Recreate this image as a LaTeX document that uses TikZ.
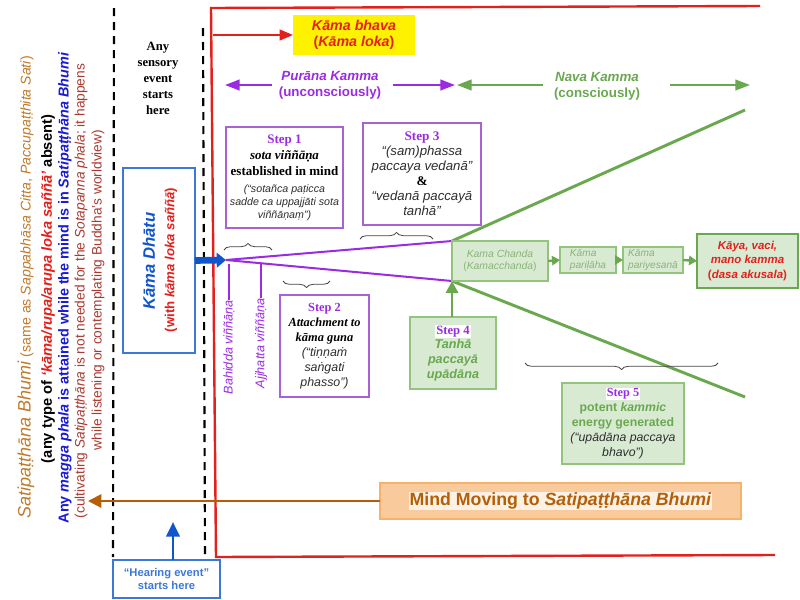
\documentclass[tikz,border=0pt]{standalone}
\usepackage{fontspec}
\setmainfont{Liberation Serif}
\setsansfont{Liberation Sans}
\usetikzlibrary{arrows.meta,decorations.pathreplacing,backgrounds}
\definecolor{fred}{HTML}{E3211C}
\definecolor{pur}{HTML}{9A2BE2}
\definecolor{purb}{HTML}{A962D3}
\definecolor{grn}{HTML}{6AA84F}
\definecolor{grnb}{HTML}{93C47D}
\definecolor{grnf}{HTML}{D9EAD3}
\definecolor{grnt}{HTML}{8AB378}
\definecolor{orf}{HTML}{F9CB9C}
\definecolor{orb}{HTML}{F6B26B}
\definecolor{brn}{HTML}{B45F06}
\definecolor{lbrn}{HTML}{C07A28}
\definecolor{blu}{HTML}{1155CC}
\definecolor{blub}{HTML}{3C78D8}
\definecolor{dblu}{HTML}{1A1AD6}
\definecolor{mar}{HTML}{A83A32}
\definecolor{gtx}{HTML}{2E2E2E}
\definecolor{hl}{HTML}{FDF1E6}
\definecolor{brcol}{HTML}{444444}
\newcommand\fz[2]{\fontsize{#1}{#2}\selectfont}
\newcommand\hlbox[2]{{\setlength\fboxsep{0.6pt}\colorbox{#1}{#2}}}
\begin{document}
\begin{tikzpicture}[x=0.75pt,y=-0.75pt,
  every node/.style={font=\sffamily,inner sep=0pt,outer sep=0pt},
  wh/.style 2 args={minimum width=#1*0.75pt,minimum height=#2*0.75pt},
  redframe/.style={draw=fred,line width=1.8pt},
  dline/.style={draw=black,line width=1.6pt,dash pattern=on 6pt off 4.5pt},
  stepbox/.style={draw=purb,line width=0.9pt,fill=white,align=center},
  gbox/.style={draw=grnb,line width=1.6pt,fill=grnf,align=center},
  bracel/.style={draw=brcol,line width=0.6pt,decorate,decoration={brace,amplitude=5pt}},
  rarrow/.style={draw=fred,line width=1.5pt,-{Triangle[length=10pt,width=8pt]}},
  parrow/.style={draw=pur,line width=1.6pt,-{Triangle[length=11pt,width=8pt]}},
  garrow/.style={draw=grn,line width=1.6pt,-{Triangle[length=11pt,width=8pt]}},
  sgarrow/.style={draw=grn,line width=1.8pt,-{Triangle[length=6pt,width=7pt]}},
  barrow/.style={draw=blu,line width=5pt,-{Triangle[length=7pt,width=11pt]}},
  bluarrow/.style={draw=blu,line width=2.2pt,-{Triangle[length=11pt,width=10pt]}},
  brarrow/.style={draw=brn,line width=1.5pt,-{Triangle[length=10pt,width=10pt]}},
  pline/.style={draw=pur,line width=1.5pt},
  gline/.style={draw=grn,line width=2.2pt},
  vlab/.style={rotate=90,anchor=east,text=pur,font=\sffamily\itshape\fz{9.5}{11}}
]
\useasboundingbox (0,0) rectangle (800,600);
% red frame
\coordinate (ftl) at (211,8);
\coordinate (ftr) at (760,6);
\coordinate (fbl) at (216,557);
\coordinate (fbr) at (775,555);
\draw[redframe] (ftr) -- (ftl) -- (fbl) -- (fbr);
% dashed lines
\coordinate (d1t) at (114,8); \coordinate (d1b) at (113,557);
\coordinate (d2t) at (203,28); \coordinate (d2b) at (205,557);
\draw[dline] (d1t) -- (d1b);
\draw[dline] (d2t) -- (d2b);
% sensory text
\node[font=\rmfamily\bfseries\fz{9.5}{12},align=center] (sens) at (158,78) {Any\\sensory\\event\\starts\\here};
% Kama bhava
\node[fill=yellow,wh={122}{40},align=center,text=fred,font=\sffamily\bfseries\fz{10.7}{12}] (kb) at (354,35) {\textit{Kāma bhava}\\(\textit{Kāma loka})};
\coordinate (kba) at (213,35);
\draw[rarrow] (kba) -- (kb.west);
% Purana / Nava
\node[text=pur,font=\sffamily\bfseries\fz{10}{12},align=center] (pk) at (330,85) {\textit{Purāna Kamma}\\(unconsciously)};
\coordinate (pka) at (272,85); \coordinate (pkl) at (225,85);
\coordinate (pkb) at (393,85); \coordinate (pkr) at (455,85);
\draw[parrow] (pka) -- (pkl);
\draw[parrow] (pkb) -- (pkr);
\node[text=grn,font=\sffamily\bfseries\fz{10}{12},align=center] (nk) at (597,86) {\textit{Nava Kamma}\\(consciously)};
\coordinate (nka) at (543,85); \coordinate (nkl) at (457,85);
\coordinate (nkb) at (670,85); \coordinate (nkr) at (750,85);
\draw[garrow] (nka) -- (nkl);
\draw[garrow] (nkb) -- (nkr);
% focal point, Kama Chanda and lines
\coordinate (fp) at (226,260);
\node[gbox,wh={96}{40},text=grnt,font=\sffamily\fz{7.8}{9}] (kc) at (500,261) {\textit{Kama Chanda}\\(\textit{Kamacchanda})};
\coordinate (gt) at (745,110); \coordinate (gb) at (745,397);
\begin{scope}[on background layer]
\draw[pline] (fp) -- (kc.north west);
\draw[pline] (fp) -- (kc.south west);
\draw[gline] (kc.north west) -- (gt);
\draw[gline] (kc.south west) -- (gb);
\end{scope}
% chain boxes
\node[gbox,line width=1.1pt,wh={56}{26},text=grnt,font=\sffamily\fz{7.6}{9},align=left] (kp) at (588,260) {\textit{Kāma}\\\textit{pariḷāha}};
\node[gbox,line width=1.1pt,wh={60}{26},text=grnt,font=\sffamily\fz{7.6}{9},align=left] (ky) at (653,260) {\textit{Kāma}\\\textit{pariyesanā}};
\node[gbox,draw=grn,line width=2.2pt,wh={101}{54},text=fred,font=\sffamily\bfseries\fz{8.6}{10.9}] (ka) at (747.5,261) {\textit{Kāya, vaci,}\\\textit{mano kamma}\\(\textit{dasa akusala})};
\draw[sgarrow] (kc.east) -- (kp.west);
\draw[sgarrow] (kp.east) -- (ky.west);
\draw[sgarrow] (ky.east) -- (ka.west);
% Kama Dhatu
\node[draw=blub,line width=1.2pt,wh={72}{185}] (kd) at (159,260.5) {};
\node[rotate=90,text=blu,font=\sffamily\bfseries\itshape\fz{12.5}{14}] (kdt) at (149,261) {Kāma Dhātu};
\node[rotate=90,text=fred,font=\sffamily\bfseries\fz{9.9}{12}] (kdw) at (171,260) {(with \textit{kāma loka saññā})};
\draw[barrow] (kd.east) -- (fp);
% vertical labels
\coordinate (bh) at (229,264);
\node[vlab] (bhl) at (229,300) {Bahidda viññāṇa};
\draw[pur,line width=0.8pt] (bh) -- (bhl.east);
\coordinate (aj) at (261,264);
\node[vlab] (ajl) at (261,298) {Ajjhatta viññāṇa};
\draw[pur,line width=0.8pt] (aj) -- (ajl.east);
% Step 1
\node[stepbox,wh={117}{101},font=\sffamily\fz{9.75}{12}] (s1) at (284.5,177.5) {%
{\rmfamily\bfseries\color{pur}Step 1}\\
{\rmfamily\bfseries\itshape sota viññāṇa}\\
{\rmfamily\bfseries established in mind}\\[0.8pt]
{\fz{8}{9.75}\itshape\color{gtx}(“sotañca paṭicca}\\[-2.25pt]
{\fz{8}{9.75}\itshape\color{gtx}sadde ca uppajjāti sota}\\[-2.25pt]
{\fz{8}{9.75}\itshape\color{gtx}viññāṇaṃ”)}};
% Step 3
\node[stepbox,wh={118}{102},font=\sffamily\fz{9.9}{11.25}] (s3) at (422,174) {%
{\rmfamily\bfseries\color{pur}Step 3}\\
{\itshape\color{gtx}“(sam)phassa}\\
{\itshape\color{gtx}paccaya vedanā”}\\
{\rmfamily\bfseries\&}\\
{\itshape\color{gtx}“vedanā paccayā}\\
{\itshape\color{gtx}tanhā”}};
% Step 2
\node[stepbox,wh={89}{102},font=\sffamily\fz{9.3}{11.25}] (s2) at (324.5,346) {%
{\rmfamily\bfseries\color{pur}Step 2}\\
{\rmfamily\bfseries\itshape Attachment to}\\
{\rmfamily\bfseries\itshape kāma guna}\\
{\itshape\color{gtx}(“tiṇṇaṁ}\\
{\itshape\color{gtx}saṅgati}\\
{\itshape\color{gtx}phasso”)}};
% Step 4
\node[gbox,line width=1.3pt,wh={86}{72},font=\sffamily\fz{9.5}{11}] (s4) at (453,353) {%
{\rmfamily\bfseries\color{pur}\hlbox{white}{Step 4}}\\
{\bfseries\itshape\color{grn}Tanhā}\\
{\bfseries\itshape\color{grn}paccayā}\\
{\bfseries\itshape\color{grn}upādāna}};
\draw[draw=grn,line width=2.2pt,-{Triangle[length=9pt,width=9pt]}] (kc.south west |- s4.north) -- (kc.south west);
% Step 5
\node[gbox,line width=1.3pt,wh={122}{81},font=\sffamily\fz{9.2}{11.25}] (s5) at (623,423.5) {%
{\rmfamily\bfseries\color{pur}\hlbox{white}{Step 5}}\\
{\bfseries\color{grn}potent \textit{kammic}}\\
{\bfseries\color{grn}energy generated}\\
{\itshape\color{gtx}(“upādāna paccaya}\\
{\itshape\color{gtx}bhavo”)}};
% braces
\coordinate (b1a) at (224,250); \coordinate (b1b) at (272,250);
\draw[bracel] (b1a) -- (b1b);
\coordinate (b3a) at (360,239); \coordinate (b3b) at (433,239);
\draw[bracel] (b3a) -- (b3b);
\coordinate (b2a) at (330,281); \coordinate (b2b) at (283,281);
\draw[bracel] (b2a) -- (b2b);
\coordinate (b5a) at (718,363); \coordinate (b5b) at (525,363);
\draw[bracel] (b5a) -- (b5b);
% Mind moving
\node[fill=orf,draw=orb,line width=1pt,wh={361}{36},font=\sffamily\bfseries\fz{13.3}{15},text=brn] (mm) at (560.5,501) {\hlbox{hl}{Mind Moving to \textit{Satipaṭṭhāna Bhumi}}};
\coordinate (mma) at (88,501);
\draw[brarrow] (mm.west) -- (mma);
% Hearing event
\node[draw=blub,line width=1.2pt,fill=white,wh={107}{38},text=blub,font=\sffamily\bfseries\fz{8.4}{9.75},align=center] (he) at (166.5,579) {“Hearing event”\\starts here};
\coordinate (hea) at (173,522);
\draw[bluarrow] (he.north -| hea) -- (hea);
% left rotated block
\node[rotate=90,text=lbrn,font=\sffamily\fz{10.6}{12}] (l1) at (26,287) {{\fz{13.5}{15}\itshape Satipaṭṭhāna Bhumi} (same as \textit{Sappabhāsa Citta}, \textit{Paccupaṭṭhita Sati})};
\node[rotate=90,font=\sffamily\bfseries\fz{11}{13}] (l2) at (48,289) {(any type of {\color{fred}\itshape‘kāma/rupa/arupa loka saññā’} absent)};
\node[rotate=90,text=dblu,font=\sffamily\bfseries\fz{10.8}{13}] (l3) at (65,288) {Any \textit{magga phala} is attained while the mind is in \textit{Satipaṭṭhāna Bhumi}};
\node[rotate=90,text=mar,font=\sffamily\fz{10.3}{12}] (l4) at (81,291) {(cultivating \textit{Satipaṭṭhāna} is not needed for the \textit{Sotapanna phala}; it happens};
\node[rotate=90,text=mar,font=\sffamily\fz{10.3}{12}] (l5) at (98,290) {while listening or contemplating Buddha's worldview)};
\end{tikzpicture}
\end{document}
